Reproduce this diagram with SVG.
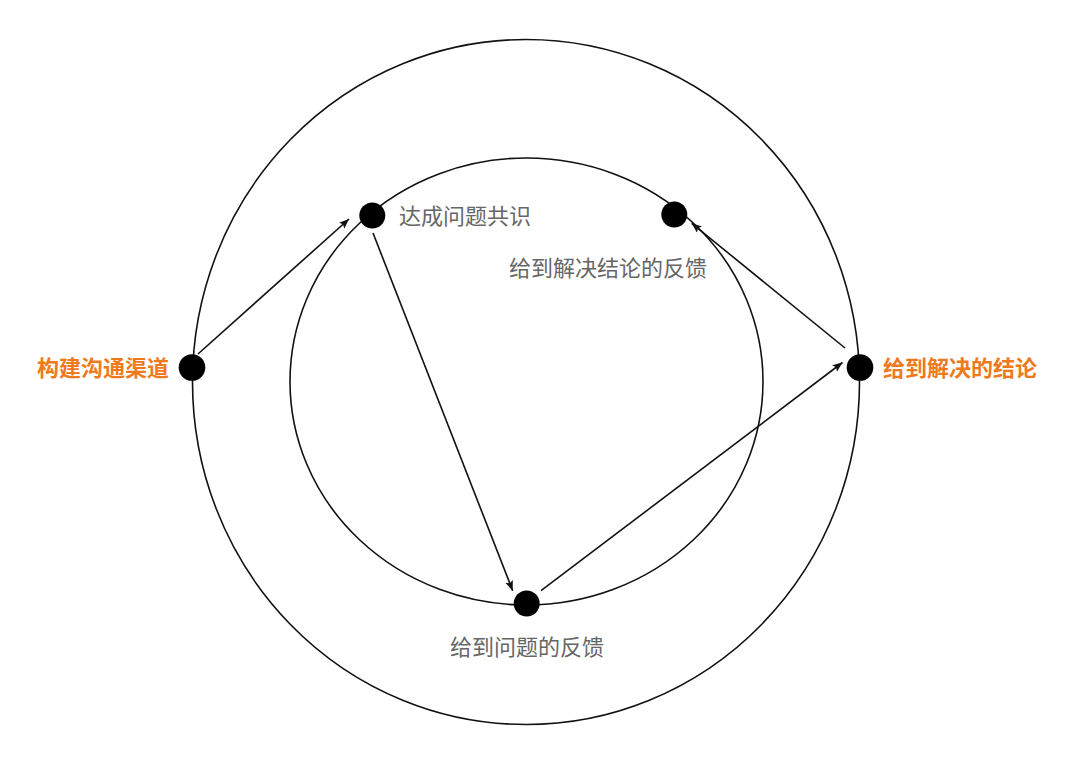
<svg xmlns="http://www.w3.org/2000/svg" width="1080" height="782" viewBox="0 0 1080 782">
  <defs>
    <marker id="arrow" markerUnits="userSpaceOnUse" markerWidth="11" markerHeight="9" refX="10" refY="4" orient="auto">
      <path d="M0,0 L10,4 L0,8 L2,4 z" fill="#111"/>
    </marker>
    <style>
      .ring { fill: none; stroke: #111; stroke-width: 1.6; }
      .dot { fill: #000; }
      .conn { stroke: #111; stroke-width: 1.6; fill: none; marker-end: url(#arrow); }
      .lbl { font-family: "Noto Sans CJK SC", "Noto Sans", sans-serif; font-size: 22px; fill: #666; }
      .key { font-family: "Noto Sans CJK SC", "Noto Sans", sans-serif; font-size: 22px; font-weight: bold; fill: #EF7A1E; }
    </style>
  </defs>
  <rect width="1080" height="782" fill="#fff"/>
  <g id="rings">
    <ellipse class="ring" cx="526" cy="382" rx="333.5" ry="342.5"/>
    <ellipse class="ring" cx="526.5" cy="381.5" rx="236.5" ry="223.5"/>
  </g>
  <g id="connectors">
    <line class="conn" x1="198" y1="354" x2="349" y2="219"/>
    <line class="conn" x1="373" y1="233" x2="512.7" y2="590.7"/>
    <line class="conn" x1="541" y1="590.7" x2="842.5" y2="362.5"/>
    <line class="conn" x1="845" y1="348" x2="691.7" y2="223.3"/>
  </g>
  <g id="node-channel">
    <circle class="dot" cx="192" cy="367.5" r="13.3"/>
    <text class="key" x="169" y="375.5" text-anchor="end">构建沟通渠道</text>
  </g>
  <g id="node-consensus">
    <circle class="dot" cx="372.3" cy="215.5" r="13"/>
    <text class="lbl" x="399" y="223.5">达成问题共识</text>
  </g>
  <g id="node-problem-feedback">
    <circle class="dot" cx="526.7" cy="603.5" r="13"/>
    <text class="lbl" x="527" y="655" text-anchor="middle">给到问题的反馈</text>
  </g>
  <g id="node-conclusion">
    <circle class="dot" cx="860" cy="367.5" r="13.3"/>
    <text class="key" x="883" y="376">给到解决的结论</text>
  </g>
  <g id="node-conclusion-feedback">
    <circle class="dot" cx="674.3" cy="214.5" r="13"/>
    <text class="lbl" x="509" y="276">给到解决结论的反馈</text>
  </g>
</svg>
